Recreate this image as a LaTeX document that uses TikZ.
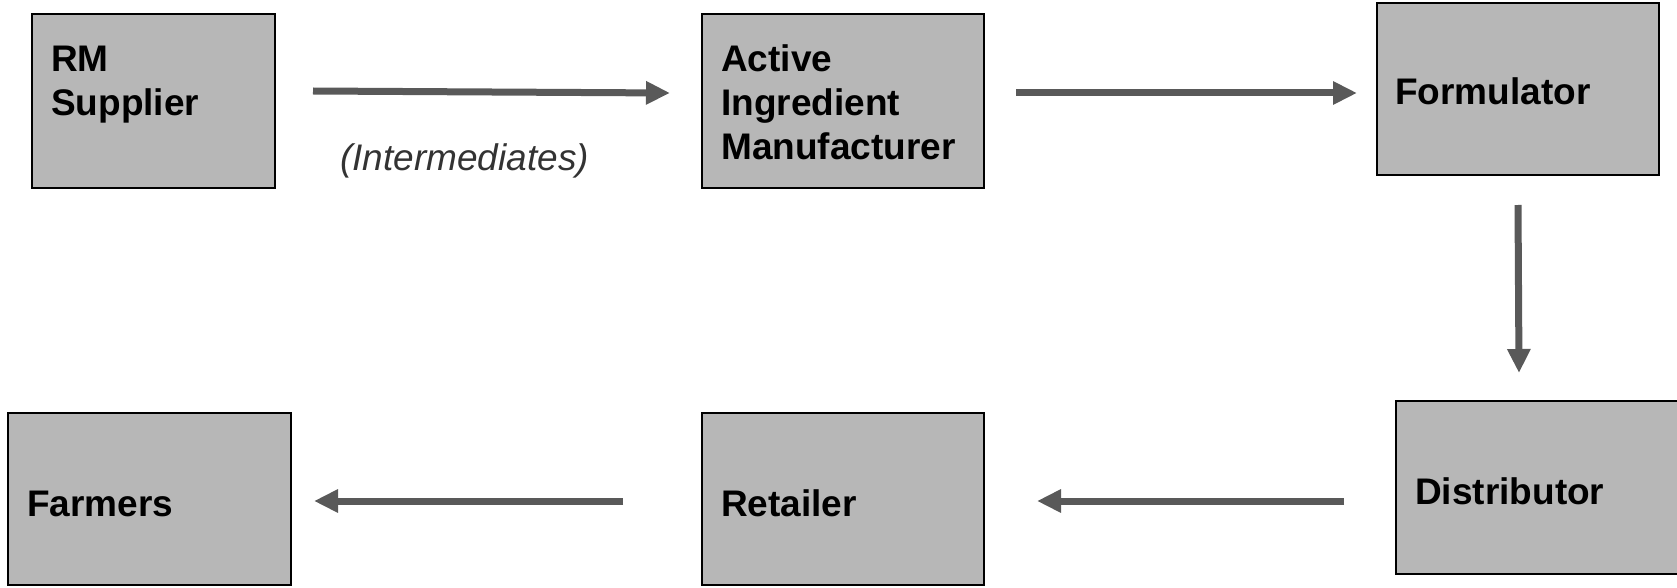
\documentclass[tikz,border=0pt]{standalone}
\usepackage{fontspec}
\setmainfont{Liberation Sans}
\usetikzlibrary{arrows.meta}
\definecolor{boxgray}{HTML}{B7B7B7}
\definecolor{arrowgray}{HTML}{595959}
\definecolor{notegray}{HTML}{333333}

\begin{document}
\begin{tikzpicture}[x=1pt,y=-1pt,
    stage/.style={draw=black, line width=1.5pt, fill=boxgray, anchor=north west, inner sep=0pt, outer sep=0pt},
    stagetext/.style={anchor=base west, align=left, inner sep=0pt, font=\fontsize{37}{44}\selectfont\bfseries},
    flow/.style={draw=arrowgray, line width=7pt, -{Triangle[length=24pt,width=22pt]}}]
				\useasboundingbox (0,0) rectangle (1677,588);
				
				% top row (multi-line texts sit on the baseline of their last line)
				\node[stage, minimum width=243pt, minimum height=174pt] (rm) at (32,14) {};
				\node[stagetext] (rmtext) at (51,116) {RM\\Supplier};
				
				\node[stage, minimum width=282pt, minimum height=174pt] (aim) at (702,14) {};
				\node[stagetext] (aimtext) at (721,160) {Active\\Ingredient\\Manufacturer};
				
				\node[stage, minimum width=282pt, minimum height=172pt] (form) at (1377,3) {};
				\node[stagetext] (formtext) at (1395,105) {Formulator};
				
				% bottom row
				\node[stage, minimum width=282pt, minimum height=173pt] (dist) at (1396,401) {};
				\node[stagetext] (disttext) at (1415,504) {Distributor};
				
				\node[stage, minimum width=282pt, minimum height=172pt] (ret) at (702,413) {};
				\node[stagetext] (rettext) at (721,516) {Retailer};
				
				\node[stage, minimum width=283pt, minimum height=172pt] (farm) at (8,413) {};
				\node[stagetext] (farmtext) at (27,516) {Farmers};
				
				% arrows
				\coordinate (a1s) at (313,91);  \coordinate (a1e) at (670,93);
				\coordinate (a2s) at (1016,93); \coordinate (a2e) at (1357,93);
				\coordinate (a3s) at (1518,205); \coordinate (a3e) at (1519,373);
				\coordinate (a4s) at (1344,501); \coordinate (a4e) at (1037,501);
				\coordinate (a5s) at (623,501);  \coordinate (a5e) at (314,501);
				\draw[flow] (a1s) -- (a1e);
				\draw[flow] (a2s) -- (a2e);
				\draw[flow] (a3s) -- (a3e);
				\draw[flow] (a4s) -- (a4e);
				\draw[flow] (a5s) -- (a5e);
				
				\node[anchor=base west, inner sep=0pt, text=notegray, font=\fontsize{37}{44}\selectfont\itshape] (inter) at (340,171) {(Intermediates)};
			\end{tikzpicture}
\end{document}
